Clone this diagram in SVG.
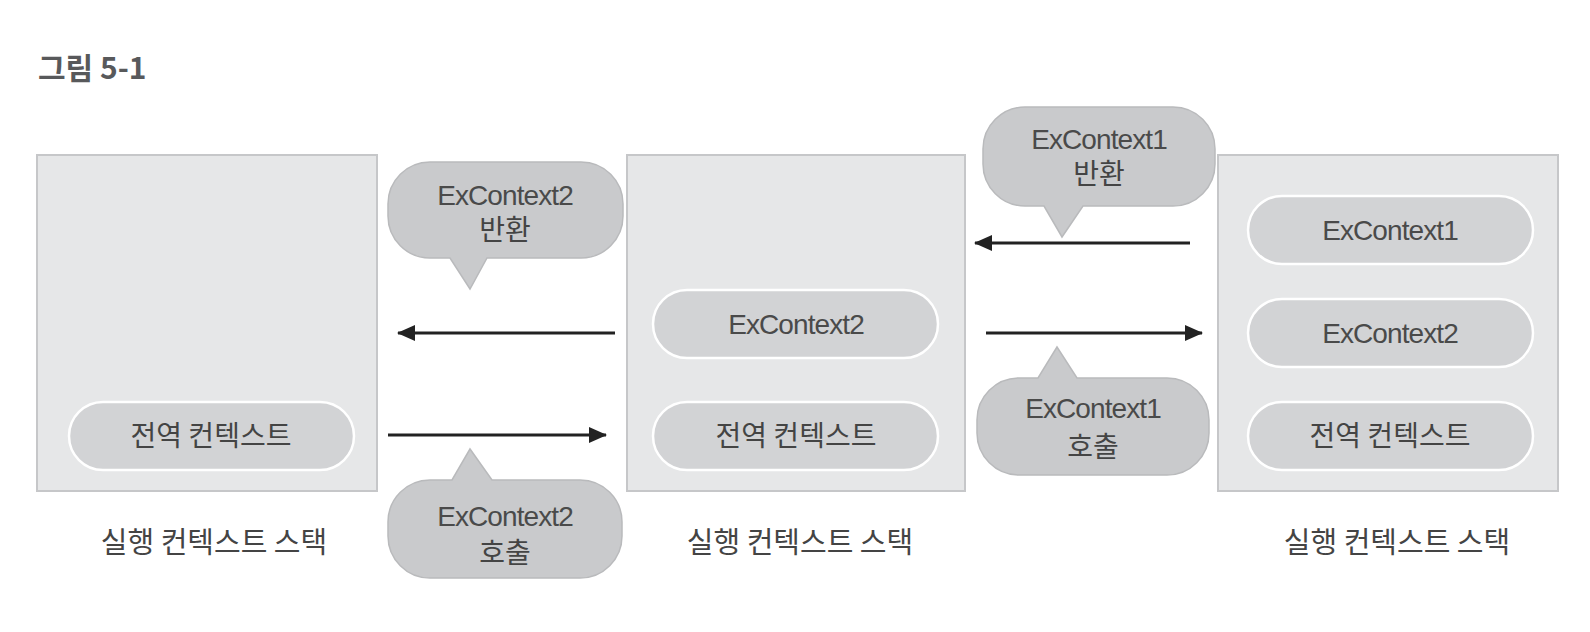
<svg xmlns="http://www.w3.org/2000/svg" width="1590" height="632" viewBox="0 0 1590 632">
  <style>
    .box { fill: #e6e7e8; stroke: #c6c7c9; stroke-width: 2; }
    .pill { fill: #d2d3d5; stroke: #ffffff; stroke-width: 2.5; }
    .bubble { fill: #c9cacc; stroke: #b9babc; stroke-width: 1.5; }
    .en { font-family: "Liberation Sans", Arial, sans-serif; font-size: 28px; letter-spacing: -0.9px; fill: #4a4a4a; text-anchor: middle; }
    .ko { font-family: "Noto Sans CJK KR", "Noto Sans", sans-serif; font-size: 28px; font-weight: 400; fill: #444444; text-anchor: middle; }
    .lbl { font-family: "Noto Sans CJK KR", "Noto Sans", sans-serif; font-size: 29px; font-weight: 400; fill: #444444; text-anchor: middle; }
    .title { font-family: "Noto Sans CJK KR", "Noto Sans", sans-serif; font-size: 30px; font-weight: bold; fill: #58595b; }
    .arrow { stroke: #222222; stroke-width: 3; fill: none; marker-end: url(#head); }
  </style>
  <defs>
    <marker id="head" markerUnits="userSpaceOnUse" markerWidth="18" markerHeight="16" refX="17" refY="8" orient="auto">
      <path d="M0,0 L18,8 L0,16 Z" fill="#222222"/>
    </marker>
  </defs>
  <rect width="1590" height="632" fill="#ffffff"/>

  <text class="title" x="38" y="79">그림 5-1</text>

  <g id="stack-left">
    <rect class="box" x="37" y="155" width="340" height="336"/>
    <g id="left-global">
      <rect class="pill" x="69" y="402" width="285" height="68" rx="34"/>
      <text class="ko" x="211" y="446">전역 컨텍스트</text>
    </g>
    <text class="lbl" x="214" y="553">실행 컨텍스트 스택</text>
  </g>

  <g id="stack-middle">
    <rect class="box" x="627" y="155" width="338" height="336"/>
    <g id="mid-ex2">
      <rect class="pill" x="653" y="290" width="285" height="68" rx="34"/>
      <text class="en" x="796" y="334">ExContext2</text>
    </g>
    <g id="mid-global">
      <rect class="pill" x="653" y="402" width="285" height="68" rx="34"/>
      <text class="ko" x="796" y="446">전역 컨텍스트</text>
    </g>
    <text class="lbl" x="800" y="553">실행 컨텍스트 스택</text>
  </g>

  <g id="stack-right">
    <rect class="box" x="1218" y="155" width="340" height="336"/>
    <g id="right-ex1">
      <rect class="pill" x="1248" y="196" width="285" height="68" rx="34"/>
      <text class="en" x="1390" y="240">ExContext1</text>
    </g>
    <g id="right-ex2">
      <rect class="pill" x="1248" y="299" width="285" height="68" rx="34"/>
      <text class="en" x="1390" y="343">ExContext2</text>
    </g>
    <g id="right-global">
      <rect class="pill" x="1248" y="402" width="285" height="68" rx="34"/>
      <text class="ko" x="1390" y="446">전역 컨텍스트</text>
    </g>
    <text class="lbl" x="1397" y="553">실행 컨텍스트 스택</text>
  </g>

  <g id="connectors">
    <line class="arrow" x1="615" y1="333" x2="398" y2="333"/>
    <line class="arrow" x1="388" y1="435" x2="606" y2="435"/>
    <line class="arrow" x1="1190" y1="243" x2="975" y2="243"/>
    <line class="arrow" x1="986" y1="333" x2="1202" y2="333"/>
  </g>

  <g id="bubble-ex2-return">
    <path class="bubble" d="M430,162 H581 A42,42 0 0 1 623,204 V216 A42,42 0 0 1 581,258 H487 L470,289 L450,258 H430 A42,42 0 0 1 388,216 V204 A42,42 0 0 1 430,162 Z"/>
    <text class="en" x="505" y="205">ExContext2</text>
    <text class="ko" x="505" y="240">반환</text>
  </g>

  <g id="bubble-ex2-call">
    <path class="bubble" d="M430,480 H452 L470,449 L492,480 H580 A42,42 0 0 1 622,522 V536 A42,42 0 0 1 580,578 H430 A42,42 0 0 1 388,536 V522 A42,42 0 0 1 430,480 Z"/>
    <text class="en" x="505" y="526">ExContext2</text>
    <text class="ko" x="505" y="563">호출</text>
  </g>

  <g id="bubble-ex1-return">
    <path class="bubble" d="M1025,107 H1173 A42,42 0 0 1 1215,149 V164 A42,42 0 0 1 1173,206 H1083 L1062,237 L1044,206 H1025 A42,42 0 0 1 983,164 V149 A42,42 0 0 1 1025,107 Z"/>
    <text class="en" x="1099" y="149">ExContext1</text>
    <text class="ko" x="1099" y="184">반환</text>
  </g>

  <g id="bubble-ex1-call">
    <path class="bubble" d="M1019,378 H1038 L1057,347 L1077,378 H1167 A42,42 0 0 1 1209,420 V433 A42,42 0 0 1 1167,475 H1019 A42,42 0 0 1 977,433 V420 A42,42 0 0 1 1019,378 Z"/>
    <text class="en" x="1093" y="418">ExContext1</text>
    <text class="ko" x="1093" y="457">호출</text>
  </g>
</svg>
